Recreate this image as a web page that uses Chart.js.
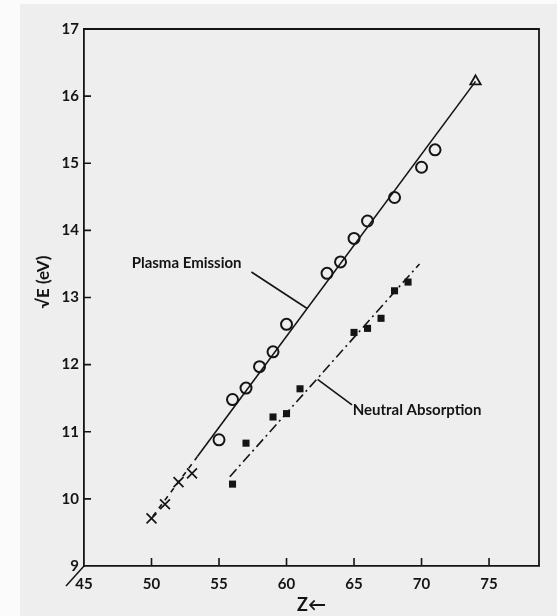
<!DOCTYPE html>
<html>
<head>
<meta charset="utf-8">
<script src="https://cdn.jsdelivr.net/npm/chart.js@4"></script>
<style>
  html, body { margin: 0; padding: 0; background: #efefef; }
  canvas { display: block; }
</style>
</head>
<body>
<canvas id="chart" width="557" height="616"></canvas>
<script>
// Atomic number Z and sqrt(E) in eV for each measured series
const crossZ = [50, 51, 52, 53];
const crossE = [9.71, 9.92, 10.25, 10.38];

const circleZ = [55, 56, 57, 58, 59, 60, 63, 64, 65, 66, 68, 70, 71];
const circleE = [10.88, 11.48, 11.65, 11.97, 12.19, 12.6, 13.36, 13.53, 13.88, 14.14, 14.49, 14.94, 15.2];

const triangleZ = [74];
const triangleE = [16.22];

const squareZ = [56, 57, 59, 60, 61, 65, 66, 67, 68, 69];
const squareE = [10.22, 10.83, 11.22, 11.27, 11.64, 12.48, 12.54, 12.69, 13.10, 13.23];

// Fitted trend lines
const emitDashZ = [50.1, 53.4];
const emitDashE = [9.74, 10.63];
const emitSolidZ = [53.4, 74];
const emitSolidE = [10.63, 16.22];
const absorbZ = [55.8, 69.85];
const absorbE = [10.33, 13.5];

// Leader lines from the curve labels
const emitLeaderZ = [57.4, 61.5];
const emitLeaderE = [13.38, 12.84];
const absorbLeaderZ = [62.3, 64.85];
const absorbLeaderE = [11.78, 11.40];

// Axis ticks
const zTicks = [45, 50, 55, 60, 65, 70, 75];
const eTicks = [9, 10, 11, 12, 13, 14, 15, 16, 17];

const curveLabels = [
  { text: 'Plasma Emission', z: 52.6, e: 13.51, align: 'center' },
  { text: 'Neutral Absorption', z: 64.9, e: 11.32, align: 'left' }
];

const pts = (xs, ys) => xs.map((x, i) => ({ x: x, y: ys[i] }));
const INK = '#141414';
const FONT = 'Lato, "DejaVu Sans", sans-serif';

const lineSet = (xs, ys, dash) => ({
  data: pts(xs, ys),
  showLine: true,
  borderColor: INK,
  borderWidth: 1.6,
  borderDash: dash || [],
  pointRadius: 0,
  fill: false
});

const paper = {
  id: 'paper',
  beforeDraw(chart) {
    const ctx = chart.ctx;
    ctx.save();
    ctx.fillStyle = '#fbfbfb';
    ctx.fillRect(0, 0, chart.width, chart.height);
    ctx.fillStyle = '#eeeeee';
    ctx.fillRect(20, 4, chart.width - 20, chart.height - 4);
    ctx.restore();
  }
};

const frame = {
  id: 'frame',
  afterDraw(chart) {
    const ctx = chart.ctx;
    const a = chart.chartArea;
    const xs = chart.scales.x, ys = chart.scales.y;
    ctx.save();
    ctx.strokeStyle = INK;
    ctx.lineWidth = 1.8;
    ctx.beginPath();
    ctx.moveTo(a.left, a.top);
    ctx.lineTo(a.right, a.top);
    ctx.lineTo(a.right, a.bottom);
    ctx.stroke();

    // inward tick marks
    ctx.lineWidth = 1.6;
    ctx.beginPath();
    xs.ticks.forEach(t => {
      const px = xs.getPixelForValue(t.value);
      if (px > a.left + 2) { ctx.moveTo(px, a.bottom); ctx.lineTo(px, a.bottom - 8); }
    });
    ys.ticks.forEach(t => {
      const py = ys.getPixelForValue(t.value);
      if (py < a.bottom - 2 && py > a.top + 2) { ctx.moveTo(a.left, py); ctx.lineTo(a.left + 7, py); }
    });
    ctx.stroke();

    // break mark at the origin
    ctx.lineWidth = 1.5;
    ctx.beginPath();
    ctx.moveTo(a.left, a.bottom);
    ctx.lineTo(a.left - 18, a.bottom + 20);
    ctx.stroke();

    ctx.fillStyle = INK;
    ctx.font = 'bold 15px ' + FONT;
    ctx.textBaseline = 'middle';
    curveLabels.forEach(l => {
      ctx.textAlign = l.align;
      ctx.fillText(l.text, xs.getPixelForValue(l.z), ys.getPixelForValue(l.e));
    });

    // vertical axis title
    ctx.translate(44, ys.getPixelForValue(13.23));
    ctx.rotate(-Math.PI / 2);
    ctx.textAlign = 'center';
    ctx.font = 'bold 17px ' + FONT;
    ctx.fillText('\u221AE (eV)', 0, 0);
    ctx.restore();
  }
};

new Chart(document.getElementById('chart'), {
  type: 'scatter',
  data: {
    datasets: [
      lineSet(emitDashZ, emitDashE, [5, 5]),
      lineSet(emitSolidZ, emitSolidE),
      lineSet(absorbZ, absorbE, [10, 4, 2, 4]),
      lineSet(emitLeaderZ, emitLeaderE),
      lineSet(absorbLeaderZ, absorbLeaderE),
      {
        data: pts(crossZ, crossE),
        pointStyle: 'crossRot', pointRadius: 7, borderWidth: 1.7,
        borderColor: INK, backgroundColor: INK
      },
      {
        data: pts(circleZ, circleE),
        pointStyle: 'circle', pointRadius: 5.5, borderWidth: 2,
        borderColor: INK, backgroundColor: 'rgba(0,0,0,0)'
      },
      {
        data: pts(triangleZ, triangleE),
        pointStyle: 'triangle', pointRadius: 6, borderWidth: 1.8,
        borderColor: INK, backgroundColor: 'rgba(0,0,0,0)'
      },
      {
        data: pts(squareZ, squareE),
        pointStyle: 'rect', pointRadius: 5, borderWidth: 0,
        borderColor: INK, backgroundColor: INK
      }
    ]
  },
  options: {
    responsive: false,
    animation: false,
    devicePixelRatio: 1,
    layout: { padding: { top: 29, right: 18, bottom: 0, left: 0 } },
    plugins: { legend: { display: false }, tooltip: { enabled: false } },
    scales: {
      x: {
        type: 'linear', min: 45, max: 78.7,
        afterFit(s) { s.height = 50; },
        afterBuildTicks(s) { s.ticks = zTicks.map(v => ({ value: v })); },
        border: { display: true, color: INK, width: 1.8 },
        grid: { drawOnChartArea: false, drawTicks: false },
        ticks: { color: INK, padding: 9, font: { family: FONT, size: 15, weight: 'bold' }, maxRotation: 0, autoSkip: false },
        title: { display: true, text: 'Z\u2190', color: INK, font: { family: FONT, size: 18, weight: 'bold' }, padding: { top: 3, bottom: 0 } }
      },
      y: {
        type: 'linear', min: 9, max: 17,
        afterFit(s) { s.width = 84; },
        afterBuildTicks(s) { s.ticks = eTicks.map(v => ({ value: v })); },
        border: { display: true, color: INK, width: 1.8 },
        grid: { drawOnChartArea: false, drawTicks: false },
        ticks: { color: INK, padding: 5, font: { family: FONT, size: 15, weight: 'bold' }, autoSkip: false }
      }
    }
  },
  plugins: [paper, frame]
});
</script>
</body>
</html>
